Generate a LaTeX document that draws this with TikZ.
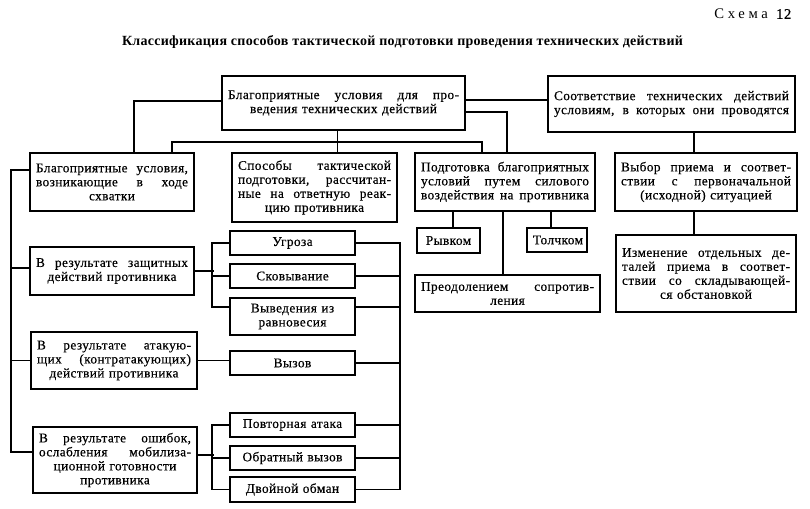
\documentclass[tikz,border=0pt]{standalone}
\usepackage{fontspec}
\setmainfont{Liberation Serif}[LetterSpace=3,FakeBold=0.4]
\newfontfamily\titlefont{Liberation Serif}[LetterSpace=2]
\newfontfamily\schemefont{Liberation Serif}[LetterSpace=25]
\usetikzlibrary{calc}
\newcommand\J[1]{{\spaceskip=0.25em plus 1fil\xspaceskip=0.25em plus 1fil\makebox[\linewidth][s]{#1}}}
\newcommand\bx[7][]{%
  \pgfmathsetlengthmacro\bxw{(#5-#3)*0.75}%
  \pgfmathsetlengthmacro\bxh{(#6-#4)*0.75}%
  \pgfmathsetlengthmacro\bxt{(#5-#3-12)*0.75}%
  \node[box, minimum width=\bxw, minimum height=\bxh, text width=\bxt, #1] (#2) at ({(#3+#5)/2},{(#4+#6)/2}) {#7};}
\begin{document}
\begin{tikzpicture}[x=0.75pt,y=-0.75pt,
  box/.style={draw, line width=1.3pt, inner sep=0pt, align=center,
    font=\fontsize{10pt}{10.5pt}\selectfont},
  conn/.style={line width=1pt}]
\useasboundingbox[fill=white] (0,0) rectangle (810,508);
\node[anchor=east, font=\fontsize{11pt}{12pt}\selectfont] (scheme) at (796,14) {{\schemefont Схема}\ \ 12};
\node[font=\fontsize{10.5pt}{12pt}\titlefont\bfseries] (title) at (402.5,42)
  {{\spaceskip=0.25em plus 1fil\makebox[420.75pt][s]{Классификация способов тактической подготовки проведения технических действий}}};
% top
\bx{A}{222}{76}{465}{130}{\J{Благоприятные условия для про-}\\ ведения технических действий}
\bx{B}{548}{76}{795}{132}{\J{Соответствие технических действий}\\ \J{условиям, в которых они проводятся}}
% second row
\bx{C1}{30}{153}{194}{211}{\J{Благоприятные условия,}\\ \J{возникающие в ходе}\\ схватки}
\bx{C2}{232}{153}{397}{222}{\J{Способы тактической}\\ \J{подготовки, рассчитан-}\\ \J{ные на ответную реак-}\\ цию противника}
\bx{C3}{415}{153}{595}{211}{\J{Подготовка благоприятных}\\ \J{условий путем силового}\\ \J{воздействия на противника}}
\bx{C4}{615}{153}{797}{211}{\J{Выбор приема и соответ-}\\ \J{ствии с первоначальной}\\ (исходной) ситуацией}
% under C3, C4
\bx{R1}{417}{228}{480}{253}{Рывком}
\bx{R2}{527}{228}{587}{252}{Толчком}
\bx{R3}{415}{275}{600}{312}{\J{Преодолением сопротив-}\\ ления}
\bx{C5}{616}{235}{796}{312}{\J{Изменение отдельных де-}\\ \J{талей приема в соответ-}\\ \J{ствии со складывающей-}\\ ся обстановкой}
% left column
\bx{D1}{30}{247}{194}{295}{\J{В результате защитных}\\ действий противника}
\bx{D2}{31}{332}{197}{389}{\J{В результате атакую-}\\ \J{щих (контратакующих)}\\ действий противника}
\bx{D3}{33}{427}{197}{493}{\J{В результате ошибок,}\\ \J{ослабления мобилиза-}\\ ционной готовности\\ противника}
% small boxes
\bx{S1}{230}{231}{355}{255}{Угроза}
\bx{S2}{230}{264}{355}{288}{Сковывание}
\bx{S3}{230}{298}{355}{335}{Выведения из\\ равновесия}
\bx{S4}{230}{351}{355}{375}{Вызов}
\bx{S5}{230}{413}{355}{437}{Повторная атака}
\bx{S6}{230}{446}{355}{470}{Обратный вызов}
\bx{S7}{230}{477}{355}{502}{Двойной обман}
% connectors
\begin{scope}[conn]
\draw ($(A.east)+(0,-3)$) coordinate (ab) -- (ab -| B.west);
\draw ($(A.west)+(0,-2)$) -| ($(C1.north)+(22,0)$);
\draw ($(A.south)+(-6,0)$) coordinate (as) -- (as |- C2.north);
\draw ($(C1.north)+(60,0)$) -- ++(0,-10) -| ($(C3.north)+(-23,0)$);
\draw ($(A.east)+(0,9)$) -| ($(C3.north)+(2,0)$);
\draw ($(B.south)+(22.5,0)$) coordinate (bs) -- (bs |- C4.north);
\draw ($(C4.south)+(-12,0)$) coordinate (cs) -- (cs |- C5.north);
\draw ($(R1.north)+(4.5,0)$) coordinate (r1) -- (r1 |- C3.south);
\draw ($(R2.north)+(-6,0)$) coordinate (r2) -- (r2 |- C3.south);
\draw ($(R3.north)+(-4.5,0)$) coordinate (r3) -- (r3 |- C3.south);
% left bus
\draw ($(C1.west)+(0,-12)$) -- ++(-18,0) |- ($(D3.west)+(0,-8)$);
\draw ($(D1.west)+(0,-3)$) -- ++(-18,0);
\draw (D2.west) -- ++(-19,0);
% brackets
\draw (D1.east) -- ++(19,0);
\draw (S1.west) -- ++(-17,0) |- ($(S3.north west)+(0,10)$);
\draw (S2.west) -- ++(-17,0);
\draw (D2.east) -- (D2.east -| S4.west);
\draw ($(D3.east)+(0,-5)$) -- ++(16,0);
\draw (S5.west) -- ++(-17,0) |- (S7.west);
\draw (S6.west) -- ++(-17,0);
% right bus
\draw (S1.east) -- ++(44,0) |- (S7.east);
\draw (S2.east) -- ++(44,0);
\draw ($(S3.north east)+(0,10)$) -- ++(44,0);
\draw (S4.east) -- ++(44,0);
\draw (S5.east) -- ++(44,0);
\draw (S6.east) -- ++(44,0);
\end{scope}
\end{tikzpicture}
\end{document}
